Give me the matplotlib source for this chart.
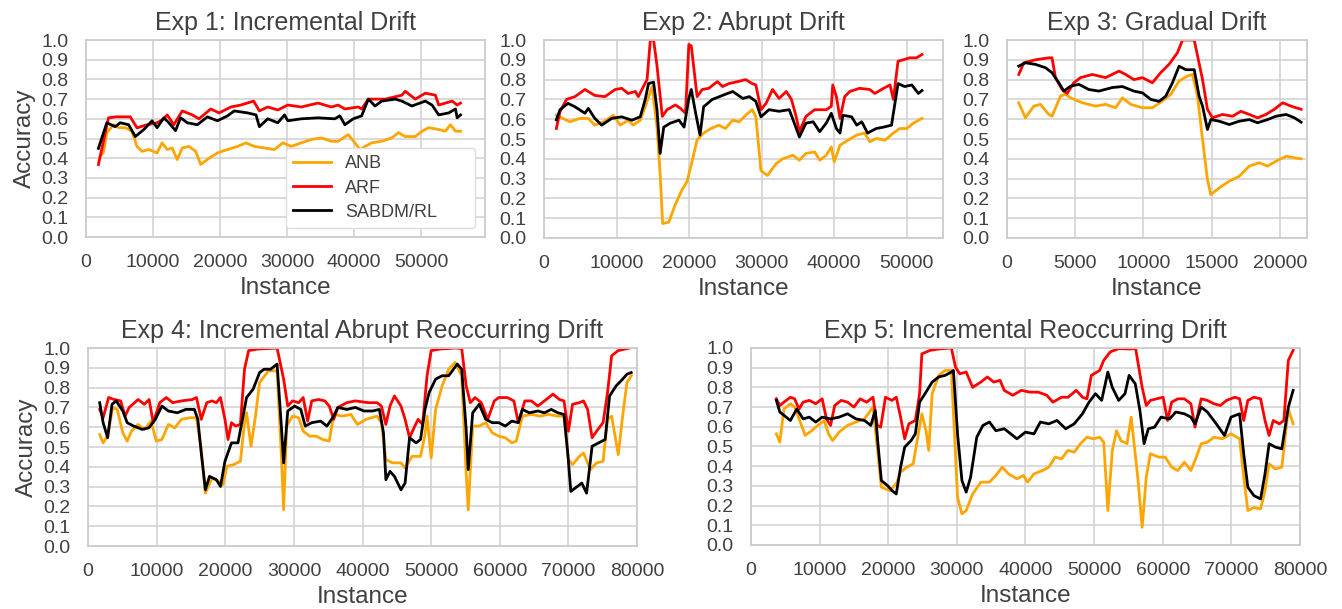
import matplotlib.pyplot as plt

# ---- Exp 1: Incremental Drift ----
e1_anb_x = [2100, 2600, 3100, 4100, 4850, 5850, 6850, 7600, 8350, 9350, 10600, 11350, 12100, 12850, 13600,
            14350, 15350, 16350, 17100, 18350, 19600, 21100, 22600, 23850, 25100, 26600, 28100, 29350, 30600,
            32100, 33600, 35100, 36600, 37600, 39100, 40100, 40850, 41600, 42600, 44100, 45600, 46600, 47600,
            49100, 50100, 51100, 52600, 53600, 54350, 55100, 55850]
e1_anb_y = [0.41, 0.43, 0.53, 0.57, 0.555, 0.555, 0.537, 0.46, 0.435, 0.444, 0.427, 0.478, 0.444, 0.452, 0.393,
            0.452, 0.46, 0.435, 0.368, 0.40, 0.427, 0.444, 0.46, 0.478, 0.46, 0.452, 0.444, 0.478, 0.46,
            0.478, 0.495, 0.503, 0.486, 0.486, 0.52, 0.478, 0.444, 0.46, 0.478, 0.486, 0.503, 0.53, 0.51,
            0.51, 0.537, 0.555, 0.546, 0.537, 0.57, 0.537, 0.537]
e1_arf_x = [1850, 3350, 4500, 6600, 7600, 9100, 10600, 11600, 12100, 13100, 14350, 15850, 16850, 18600, 19850,
            21600, 23100, 25000, 25850, 27100, 28600, 30100, 32100, 34600, 36600, 37600, 38600, 40600, 41100,
            42100, 44600, 47100, 47600, 49100, 50600, 52100, 52600, 54600, 55350, 55850]
e1_arf_y = [0.368, 0.605, 0.61, 0.61, 0.554, 0.57, 0.58, 0.60, 0.62, 0.57, 0.64, 0.62, 0.60, 0.65, 0.63,
            0.66, 0.67, 0.69, 0.64, 0.66, 0.645, 0.67, 0.66, 0.68, 0.66, 0.67, 0.65, 0.66, 0.65,
            0.70, 0.70, 0.72, 0.74, 0.70, 0.73, 0.72, 0.67, 0.69, 0.67, 0.68]
e1_sab_x = [1850, 3100, 4350, 5100, 6350, 7350, 8600, 9850, 10600, 11600, 12350, 13350, 14100, 15100, 16600,
            18100, 19600, 21100, 22100, 24100, 25350, 25850, 27100, 28600, 29600, 30100, 32100, 34600, 37100,
            37850, 38600, 39850, 41100, 42100, 43100, 44100, 46100, 47100, 48600, 50600, 51600, 52600, 54100,
            55100, 55350, 55850]
e1_sab_y = [0.45, 0.58, 0.56, 0.58, 0.57, 0.51, 0.545, 0.59, 0.555, 0.605, 0.58, 0.54, 0.605, 0.58, 0.57,
            0.61, 0.59, 0.615, 0.64, 0.63, 0.62, 0.56, 0.60, 0.58, 0.62, 0.59, 0.60, 0.605, 0.60,
            0.615, 0.57, 0.60, 0.615, 0.70, 0.665, 0.69, 0.70, 0.69, 0.665, 0.69, 0.67, 0.62, 0.63,
            0.65, 0.605, 0.62]

# ---- Exp 2: Abrupt Drift ----
e2_anb_x = [1700, 2600, 3550, 4950, 6100, 7000, 8200, 9560, 10500, 11600, 12300, 13260, 13950, 14900, 15570,
            16000, 16350, 17200, 18100, 19000, 19700, 20400, 21100, 22000, 23000, 24100, 25000, 26000, 26900,
            27800, 28700, 29200, 29900, 30800, 32000, 32900, 34300, 35200, 36100, 37300, 38000, 38900, 39600,
            40000, 40800, 41900, 43100, 44200, 44900, 45800, 47000, 48150, 49050, 50000, 50900, 52100]
e2_anb_y = [0.62, 0.604, 0.587, 0.604, 0.604, 0.57, 0.587, 0.62, 0.57, 0.595, 0.57, 0.595, 0.663, 0.765, 0.56,
            0.327, 0.073, 0.08, 0.17, 0.242, 0.284, 0.386, 0.496, 0.53, 0.553, 0.57, 0.553, 0.595, 0.587,
            0.62, 0.648, 0.612, 0.34, 0.316, 0.376, 0.40, 0.418, 0.393, 0.427, 0.435, 0.393, 0.418, 0.46,
            0.384, 0.469, 0.494, 0.52, 0.53, 0.486, 0.503, 0.494, 0.53, 0.553, 0.553, 0.58, 0.604]
e2_arf_x = [1700, 2200, 3100, 4250, 5640, 7000, 8400, 9800, 10700, 11600, 12600, 13000, 13700, 14200, 14650,
            15100, 15570, 16300, 16950, 18100, 18800, 19500, 19960, 20300, 21100, 21800, 22700, 23900, 24600,
            25500, 26700, 27800, 28700, 29200, 29900, 30600, 31500, 32400, 33400, 34100, 34750, 35200, 36100,
            37300, 38900, 39600, 39800, 40300, 40800, 41450, 42150, 43500, 44900, 45600, 46800, 47700, 48150,
            48800, 49500, 50400, 51350, 52100]
e2_arf_y = [0.553, 0.638, 0.70, 0.714, 0.75, 0.72, 0.714, 0.75, 0.756, 0.73, 0.74, 0.714, 0.765, 0.80, 1.0,
            1.0, 0.87, 0.614, 0.648, 0.672, 0.655, 0.63, 0.978, 0.97, 0.714, 0.75, 0.756, 0.79, 0.765,
            0.78, 0.79, 0.80, 0.78, 0.773, 0.648, 0.68, 0.75, 0.705, 0.74, 0.70, 0.614, 0.537, 0.614,
            0.648, 0.648, 0.665, 0.773, 0.714, 0.604, 0.714, 0.74, 0.756, 0.75, 0.73, 0.756, 0.773, 0.70,
            0.893, 0.90, 0.91, 0.91, 0.927]
e2_sab_x = [1700, 2200, 3300, 4250, 5640, 6100, 7000, 7950, 9330, 10700, 12100, 13260, 13950, 14400, 15100,
            15570, 16000, 16500, 17400, 18600, 19300, 19960, 20300, 20900, 21500, 22000, 23200, 24600, 26000,
            27400, 28300, 29200, 29900, 31000, 32400, 33800, 34500, 35200, 36100, 37100, 38000, 38900, 39600,
            40300, 40800, 41200, 42400, 43100, 43800, 44600, 45800, 46800, 47900, 48800, 49700, 50700, 51600,
            52100]
e2_sab_y = [0.597, 0.648, 0.68, 0.663, 0.63, 0.655, 0.604, 0.57, 0.604, 0.612, 0.595, 0.612, 0.70, 0.78, 0.787,
            0.648, 0.427, 0.56, 0.58, 0.595, 0.56, 0.705, 0.75, 0.63, 0.52, 0.663, 0.70, 0.72, 0.74,
            0.705, 0.714, 0.69, 0.612, 0.648, 0.64, 0.648, 0.58, 0.51, 0.58, 0.587, 0.537, 0.58, 0.63,
            0.553, 0.53, 0.62, 0.612, 0.57, 0.587, 0.53, 0.553, 0.56, 0.57, 0.78, 0.765, 0.773, 0.73,
            0.745]

# ---- Exp 3: Gradual Drift ----
e3_anb_x = [860, 1350, 1960, 2450, 3060, 3300, 3920, 4290, 4660, 5510, 6500, 7230, 7960, 8460, 9070, 9930,
            10660, 11400, 12010, 12620, 13230, 13600, 13970, 14340, 14700, 14950, 15560, 16300, 17030, 17770,
            18500, 19110, 19730, 20470, 21080, 21570]
e3_anb_y = [0.683, 0.607, 0.666, 0.675, 0.624, 0.615, 0.717, 0.725, 0.708, 0.683, 0.666, 0.675, 0.658, 0.708,
            0.675, 0.658, 0.658, 0.692, 0.725, 0.793, 0.818, 0.826, 0.717, 0.497, 0.295, 0.219, 0.253, 0.287,
            0.312, 0.363, 0.38, 0.363, 0.388, 0.413, 0.405, 0.40]
e3_arf_x = [860, 1230, 2080, 2570, 3060, 3300, 3550, 4040, 4410, 4900, 5390, 6250, 7230, 8210, 8700, 9310,
            9930, 10660, 11270, 11880, 12500, 12870, 13730, 14340, 14700, 15070, 15800, 16540, 17150, 17770,
            18380, 18990, 19600, 20220, 20830, 21570]
e3_arf_y = [0.826, 0.885, 0.90, 0.905, 0.91, 0.91, 0.81, 0.75, 0.73, 0.784, 0.81, 0.826, 0.81, 0.843, 0.826,
            0.80, 0.81, 0.784, 0.835, 0.877, 0.936, 1.0, 1.0, 0.80, 0.65, 0.607, 0.624, 0.615, 0.64, 0.624,
            0.607, 0.624, 0.65, 0.683, 0.666, 0.65]
e3_sab_x = [860, 1350, 2080, 2820, 3300, 3800, 4160, 4660, 5270, 6000, 6740, 7720, 8460, 9310, 9930, 10540,
            11150, 11640, 12130, 12620, 13110, 13730, 14090, 14340, 14700, 14950, 15560, 16300, 17030, 17770,
            18380, 19110, 19730, 20470, 21080, 21570]
e3_sab_y = [0.868, 0.885, 0.877, 0.86, 0.835, 0.784, 0.742, 0.767, 0.776, 0.75, 0.742, 0.76, 0.765, 0.742,
            0.733, 0.70, 0.69, 0.716, 0.784, 0.868, 0.85, 0.85, 0.716, 0.666, 0.548, 0.598, 0.59, 0.573, 0.59,
            0.598, 0.582, 0.598, 0.615, 0.624, 0.607, 0.585]

# ---- Exp 4: Incremental Abrupt Reoccurring Drift ----
e4_anb_x = [1700, 2200, 2850, 3600, 4250, 5070, 5700, 6330, 7280, 8230, 9180, 9950, 10770, 11700, 12650,
            13600, 14900, 15800, 16500, 17100, 18050, 19000, 19650, 20250, 21200, 22200, 22800, 23100, 23750,
            24400, 25000, 26300, 27550, 28200, 28500, 28950, 29800, 30700, 31350, 32300, 33250, 34200, 35150,
            35800, 37050, 38300, 39250, 40500, 42100, 42750, 43400, 44350, 45600, 46200, 47200, 48450, 49100,
            49400, 50000, 50650, 51600, 52550, 53500, 54450, 55100, 55400, 56050, 57000, 57950, 58900, 59850,
            60800, 61750, 62400, 63300, 64600, 65850, 67100, 68450, 69350, 70000, 70600, 71600, 72200, 73200,
            74100, 75050, 75700, 76300, 77260, 77900, 78530, 79150]
e4_anb_y = [0.563, 0.521, 0.555, 0.70, 0.69, 0.572, 0.53, 0.58, 0.614, 0.589, 0.631, 0.53, 0.538, 0.614, 0.597,
            0.64, 0.648, 0.648, 0.487, 0.267, 0.343, 0.327, 0.31, 0.403, 0.411, 0.428, 0.623, 0.673, 0.504,
            0.656, 0.826, 0.885, 0.885, 0.437, 0.183, 0.606, 0.656, 0.648, 0.58, 0.555, 0.555, 0.538, 0.53,
            0.665, 0.656, 0.665, 0.614, 0.64, 0.656, 0.623, 0.437, 0.42, 0.42, 0.394, 0.453, 0.453, 0.563,
            0.656, 0.445, 0.69, 0.809, 0.893, 0.927, 0.86, 0.369, 0.183, 0.606, 0.606, 0.623, 0.572, 0.555,
            0.547, 0.521, 0.53, 0.656, 0.665, 0.656, 0.665, 0.656, 0.656, 0.437, 0.411, 0.453, 0.47, 0.386,
            0.42, 0.428, 0.64, 0.656, 0.462, 0.656, 0.826, 0.86]
e4_arf_x = [1700, 2200, 3000, 3800, 4750, 5400, 6000, 7300, 8200, 8900, 9500, 10450, 11400, 12350, 13600,
            15200, 15800, 16500, 17300, 18050, 18700, 19300, 19950, 20400, 20900, 21500, 22200, 22800, 23400,
            24700, 26000, 27550, 28500, 29100, 29800, 30700, 31350, 32000, 32600, 33600, 34500, 35150, 35800,
            36400, 37700, 38950, 40850, 42100, 42750, 43400, 44000, 44650, 45600, 46200, 46850, 47500, 48100,
            48750, 49400, 50000, 51300, 53500, 54450, 55100, 55700, 56400, 57300, 58250, 59200, 59850, 61100,
            62050, 62700, 63650, 64600, 65550, 66500, 67750, 68700, 69350, 70000, 70600, 71600, 72200, 72800,
            73450, 74100, 75050, 75700, 76300, 77260, 78850]
e4_arf_y = [0.69, 0.648, 0.75, 0.74, 0.733, 0.656, 0.70, 0.74, 0.716, 0.74, 0.623, 0.724, 0.75, 0.724, 0.733,
            0.74, 0.75, 0.64, 0.724, 0.733, 0.724, 0.75, 0.64, 0.538, 0.623, 0.606, 0.614, 0.893, 0.987,
            0.995, 0.997, 1.0, 0.843, 0.707, 0.733, 0.724, 0.75, 0.631, 0.733, 0.74, 0.733, 0.707, 0.64,
            0.70, 0.724, 0.733, 0.724, 0.724, 0.707, 0.614, 0.707, 0.758, 0.707, 0.64, 0.547, 0.597, 0.64,
            0.614, 0.86, 0.987, 0.995, 1.0, 0.998, 0.809, 0.724, 0.75, 0.724, 0.64, 0.733, 0.75, 0.75,
            0.733, 0.623, 0.733, 0.733, 0.707, 0.733, 0.767, 0.74, 0.733, 0.58, 0.716, 0.724, 0.733, 0.69,
            0.547, 0.58, 0.623, 0.775, 0.961, 0.987, 1.0]
e4_sab_x = [1700, 2200, 2850, 3500, 4100, 5070, 5700, 6650, 7900, 8870, 9800, 10770, 11700, 13000, 14250,
            15500, 16000, 16500, 17100, 17700, 18700, 19300, 19950, 20900, 21850, 22500, 23100, 24050, 25000,
            25650, 26600, 27550, 28200, 28500, 29100, 30100, 31000, 31650, 32600, 33900, 34800, 35800, 36400,
            37700, 38950, 40200, 41450, 42450, 43050, 43400, 44000, 44650, 45600, 46200, 46850, 47800, 48450,
            49100, 49700, 50650, 51600, 52550, 53800, 54450, 55100, 55400, 56050, 57000, 57950, 58900, 59850,
            60800, 61750, 62700, 63300, 64300, 65550, 66500, 67500, 68450, 69350, 69900, 70350, 71300, 71950,
            72650, 73450, 74400, 75350, 76000, 76950, 77900, 78530, 79150]
e4_sab_y = [0.724, 0.623, 0.547, 0.716, 0.733, 0.682, 0.623, 0.606, 0.589, 0.597, 0.64, 0.707, 0.682, 0.673,
            0.69, 0.69, 0.64, 0.47, 0.284, 0.352, 0.335, 0.301, 0.428, 0.521, 0.521, 0.64, 0.75, 0.792, 0.876,
            0.893, 0.893, 0.919, 0.589, 0.42, 0.682, 0.707, 0.69, 0.606, 0.623, 0.631, 0.606, 0.656, 0.70,
            0.69, 0.70, 0.682, 0.682, 0.69, 0.572, 0.335, 0.377, 0.352, 0.284, 0.318, 0.547, 0.521, 0.538,
            0.69, 0.775, 0.843, 0.86, 0.86, 0.919, 0.893, 0.589, 0.386, 0.673, 0.716, 0.64, 0.623, 0.623,
            0.606, 0.631, 0.623, 0.69, 0.673, 0.682, 0.673, 0.69, 0.673, 0.665, 0.47, 0.276, 0.301, 0.318,
            0.267, 0.504, 0.521, 0.538, 0.758, 0.809, 0.843, 0.868, 0.876]

# ---- Exp 5: Incremental Reoccurring Drift ----
e5_anb_x = [3700, 4200, 4800, 5740, 6360, 7280, 7900, 8830, 9750, 10680, 11300, 11900, 12840, 14070, 15300,
            16540, 17780, 18400, 19000, 20250, 21170, 21800, 22700, 23640, 24260, 24900, 25500, 25900, 26400,
            27350, 28300, 29200, 30100, 30740, 31360, 32300, 33500, 34750, 35680, 36600, 37530, 38760, 39700,
            40300, 41240, 42470, 43400, 44320, 45250, 46170, 47100, 48000, 48950, 49900, 50800, 51400, 52000,
            52650, 53270, 53900, 54800, 55400, 56360, 57000, 57600, 58200, 59440, 60370, 61300, 62200, 63150,
            64100, 64700, 65600, 66500, 67450, 68700, 69950, 71200, 71800, 72400, 73300, 74260, 74900, 75500,
            76400, 77350, 78300, 79000]
e5_anb_y = [0.564, 0.522, 0.69, 0.717, 0.70, 0.615, 0.556, 0.58, 0.607, 0.632, 0.564, 0.53, 0.573, 0.607,
            0.624, 0.64, 0.70, 0.497, 0.293, 0.276, 0.31, 0.37, 0.395, 0.412, 0.539, 0.666, 0.58, 0.48, 0.768,
            0.861, 0.886, 0.886, 0.242, 0.158, 0.175, 0.259, 0.319, 0.319, 0.353, 0.395, 0.361, 0.336, 0.353,
            0.319, 0.361, 0.378, 0.395, 0.446, 0.437, 0.48, 0.471, 0.514, 0.547, 0.539, 0.547, 0.522, 0.175,
            0.48, 0.58, 0.53, 0.514, 0.649, 0.344, 0.09, 0.344, 0.463, 0.446, 0.446, 0.395, 0.378, 0.42,
            0.378, 0.429, 0.514, 0.522, 0.547, 0.539, 0.564, 0.539, 0.344, 0.175, 0.19, 0.183, 0.276, 0.412,
            0.386, 0.395, 0.69, 0.615]
e5_arf_x = [3700, 4200, 4800, 5740, 6360, 7000, 7600, 8500, 9440, 10370, 11000, 11600, 12200, 13150, 14070,
            15000, 15900, 16850, 17780, 18400, 18900, 19600, 20550, 21170, 21800, 22400, 23000, 23950, 24570,
            24900, 26100, 27350, 29200, 29800, 30430, 31360, 32300, 33500, 34440, 35370, 36300, 36900, 38150,
            39400, 40600, 41850, 43100, 44000, 45250, 46200, 47400, 48300, 48950, 49600, 50800, 51400, 52350,
            53600, 55100, 56050, 57000, 57600, 58200, 59100, 60060, 60700, 61300, 62200, 63150, 64100, 64700,
            65600, 66500, 67450, 68400, 69300, 70500, 71200, 71800, 72400, 73300, 74260, 74900, 75500, 76100,
            77000, 77650, 78300, 79000]
e5_arf_y = [0.742, 0.708, 0.725, 0.75, 0.742, 0.69, 0.725, 0.734, 0.717, 0.742, 0.64, 0.607, 0.708, 0.734,
            0.725, 0.70, 0.742, 0.725, 0.75, 0.607, 0.598, 0.75, 0.734, 0.75, 0.649, 0.539, 0.615, 0.632,
            0.768, 0.97, 0.988, 0.995, 1.0, 0.903, 0.869, 0.878, 0.80, 0.827, 0.853, 0.827, 0.836, 0.785,
            0.76, 0.785, 0.776, 0.776, 0.76, 0.725, 0.75, 0.75, 0.785, 0.75, 0.742, 0.861, 0.886, 0.937,
            0.98, 0.997, 0.995, 0.997, 0.80, 0.708, 0.734, 0.742, 0.75, 0.632, 0.725, 0.742, 0.742, 0.717,
            0.598, 0.742, 0.734, 0.717, 0.708, 0.734, 0.75, 0.742, 0.632, 0.734, 0.75, 0.742, 0.632, 0.556,
            0.632, 0.615, 0.632, 0.937, 0.988]
e5_sab_x = [3700, 4200, 5120, 5740, 6670, 7600, 8500, 9440, 10370, 11600, 12840, 14070, 15300, 16540, 17470,
            18100, 18500, 19000, 19940, 20550, 21170, 21800, 22400, 23330, 23950, 24570, 25500, 26400, 27350,
            28300, 29200, 29500, 30100, 30740, 31360, 32000, 32900, 33800, 34750, 35680, 36900, 38150, 38760,
            40000, 41240, 42160, 43400, 44600, 45860, 47100, 48300, 49260, 50200, 51100, 52000, 52650, 53580,
            54500, 55100, 56000, 56670, 57280, 57900, 58800, 59750, 61000, 61900, 63150, 64100, 64700, 65600,
            66500, 67800, 69000, 69950, 71200, 71800, 72400, 73300, 74260, 74900, 75500, 76400, 77350, 78300,
            79000]
e5_sab_y = [0.734, 0.675, 0.649, 0.632, 0.69, 0.64, 0.649, 0.624, 0.649, 0.64, 0.649, 0.666, 0.64, 0.632,
            0.607, 0.683, 0.514, 0.327, 0.30, 0.276, 0.259, 0.395, 0.497, 0.53, 0.564, 0.725, 0.776, 0.827,
            0.853, 0.861, 0.878, 0.886, 0.564, 0.327, 0.268, 0.344, 0.547, 0.607, 0.624, 0.58, 0.59, 0.556,
            0.539, 0.573, 0.564, 0.624, 0.615, 0.632, 0.59, 0.615, 0.666, 0.725, 0.768, 0.734, 0.878, 0.80,
            0.734, 0.768, 0.861, 0.818, 0.683, 0.514, 0.59, 0.598, 0.649, 0.64, 0.675, 0.666, 0.649, 0.615,
            0.70, 0.675, 0.615, 0.556, 0.649, 0.666, 0.463, 0.293, 0.25, 0.234, 0.361, 0.514, 0.497, 0.488,
            0.70, 0.785]

series_names = ["ANB", "ARF", "SABDM/RL"]
series_colors = ["orange", "red", "black"]

plt.rcParams["font.family"] = ["Liberation Sans", "DejaVu Sans"]
plt.rcParams["text.color"] = "#404040"
plt.rcParams["axes.labelcolor"] = "#404040"
plt.rcParams["xtick.color"] = "#404040"
plt.rcParams["ytick.color"] = "#404040"

fig = plt.figure(figsize=(13.42, 6.09), dpi=100)

panels = [
    ("Exp 1: Incremental Drift", [0.0641, 0.6108, 0.2973, 0.3235], 59500,
     range(0, 50001, 10000), True,
     [(e1_anb_x, e1_anb_y), (e1_arf_x, e1_arf_y), (e1_sab_x, e1_sab_y)]),
    ("Exp 2: Abrupt Drift", [0.4054, 0.6092, 0.2973, 0.3251], 55000,
     range(0, 50001, 10000), False,
     [(e2_anb_x, e2_anb_y), (e2_arf_x, e2_arf_y), (e2_sab_x, e2_sab_y)]),
    ("Exp 3: Gradual Drift", [0.7504, 0.6092, 0.2235, 0.3251], 22000,
     range(0, 20001, 5000), False,
     [(e3_anb_x, e3_anb_y), (e3_arf_x, e3_arf_y), (e3_sab_x, e3_sab_y)]),
    ("Exp 4: Incremental Abrupt Reoccurring Drift", [0.0656, 0.1034, 0.4091, 0.3251], 80000,
     range(0, 80001, 10000), True,
     [(e4_anb_x, e4_anb_y), (e4_arf_x, e4_arf_y), (e4_sab_x, e4_sab_y)]),
    ("Exp 5: Incremental Reoccurring Drift", [0.5596, 0.1051, 0.4091, 0.3235], 80000,
     range(0, 80001, 10000), False,
     [(e5_anb_x, e5_anb_y), (e5_arf_x, e5_arf_y), (e5_sab_x, e5_sab_y)]),
]

for i, (title, rect, xmax, xticks, ylab, data) in enumerate(panels):
    ax = fig.add_axes(rect)
    for (xs, ys), name, col in zip(data, series_names, series_colors):
        ax.plot(xs, ys, color=col, lw=2, label=name)
    ax.set_xlim(0, xmax)
    ax.set_ylim(0, 1.0)
    ax.set_xticks(list(xticks))
    ax.set_yticks([k / 10 for k in range(11)])
    ax.set_yticklabels(["%.1f" % (k / 10) for k in range(11)])
    ax.grid(True, color="#d0d0d0", lw=1.1)
    ax.set_axisbelow(True)
    for s in ax.spines.values():
        s.set_color("#cccccc")
        s.set_linewidth(1.3)
    ax.tick_params(length=0, pad=12.5, labelsize=14)
    ax.set_title(title, fontsize=18, pad=7)
    ax.set_xlabel("Instance", fontsize=17.5, labelpad=4)
    if ylab:
        ax.set_ylabel("Accuracy", fontsize=17.5, labelpad=4)
    if i == 0:
        ax.legend(loc="lower left", bbox_to_anchor=(0.50, 0.046, 0.476, 0.40), mode="expand",
                  borderaxespad=0, fontsize=13, frameon=True, facecolor="white", edgecolor="#dddddd",
                  handlelength=2.1, labelspacing=0.4, borderpad=0.4, fancybox=True, framealpha=1)

fig.savefig("out.png", dpi=100)
